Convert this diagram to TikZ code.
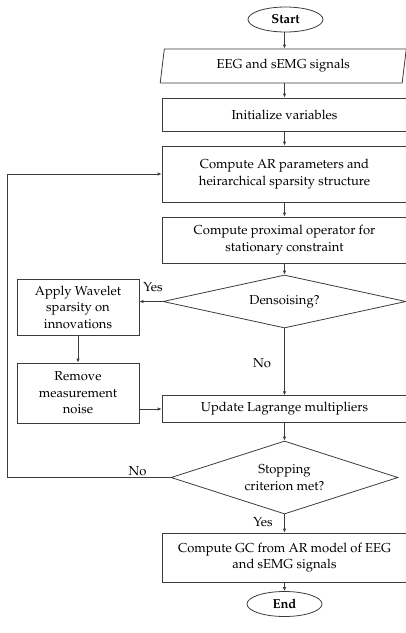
\documentclass[tikz,border=0pt]{standalone}
\usepackage[T1]{fontenc}
\usepackage{mathpazo}
\usetikzlibrary{shapes.geometric,arrows.meta}
\definecolor{ln}{HTML}{3C3C3C}
\tikzset{
  every node/.style={font=\fontsize{13}{16.5}\selectfont, text=black},
  base/.style={draw=ln, line width=0.8pt, inner sep=0pt, align=center},
  box/.style={base, rectangle, minimum width=245pt},
  term/.style={base, ellipse, minimum width=75pt, minimum height=25pt, font=\fontsize{13}{16.5}\selectfont\bfseries},
  dec/.style={base, diamond},
  io/.style={base, trapezium, trapezium left angle=80, trapezium right angle=100, trapezium stretches=true},
  conn/.style={draw=ln, line width=0.8pt, -{Latex[length=4pt,width=3.5pt]}},
  lbl/.style={inner sep=0pt}
}
\begin{document}
\begin{tikzpicture}[x=1pt,y=-1pt]
\useasboundingbox (0,0) rectangle (406,633);
\node[term] (start) at (285.5,19.5) {Start};
\node[io, minimum width=246.5pt, minimum height=34pt] (input) at (283.25,66) {EEG and sEMG signals};
\node[box, minimum height=33pt] (init) at (284.5,114.5) {Initialize variables};
\node[box, minimum height=56pt] (ar) at (284.5,174) {Compute AR parameters and\\heirarchical sparsity structure};
\node[box, minimum height=46pt] (prox) at (284.5,240) {Compute proximal operator for\\stationary constraint};
\node[dec, aspect=4.585, minimum width=243pt, minimum height=53pt] (dens) at (284.5,301.5) {Densoising?};
\node[box, minimum width=122pt, minimum height=56pt] (wav) at (78,307) {Apply Wavelet\\sparsity on\\innovations};
\node[box, minimum width=122pt, minimum height=60pt] (rem) at (78,393) {Remove\\measurement\\noise};
\node[box, minimum height=26.6pt] (upd) at (284.5,409) {Update Lagrange multipliers};
\node[dec, aspect=3.11, minimum width=227pt, minimum height=73pt] (stop) at (284.5,477.5) {Stopping\\criterion met?};
\node[box, minimum height=49pt] (gc) at (284.5,557.5) {Compute GC from AR model of EEG\\and sEMG signals};
\node[term] (end) at (284.5,604) {End};
\coordinate (loopA) at (7,477.5);
\coordinate (loopB) at (7,174);

\draw[conn] (start.south -| init.north) -- (input.north -| init.north);
\draw[conn] (input.south -| init.north) -- (init.north);
\draw[conn] (init) -- (ar);
\draw[conn] (ar) -- (prox);
\draw[conn] (prox) -- (dens);
\draw[conn] (dens.west) -- (dens.west -| wav.east);
\draw[conn] (wav) -- (rem);
\draw[conn] (upd.west -| rem.east) -- (upd.west);
\draw[conn] (dens) -- (upd);
\draw[conn] (upd) -- (stop);
\draw[conn] (stop) -- (gc);
\draw[conn] (gc) -- (end);
\draw[conn] (stop.west) -- (loopA) -- (loopB) -- (ar.west);

\node[lbl] at (153,287) {Yes};
\node[lbl] at (262,363.5) {No};
\node[lbl] at (137.5,471) {No};
\node[lbl] at (263,522) {Yes};
\end{tikzpicture}
\end{document}
